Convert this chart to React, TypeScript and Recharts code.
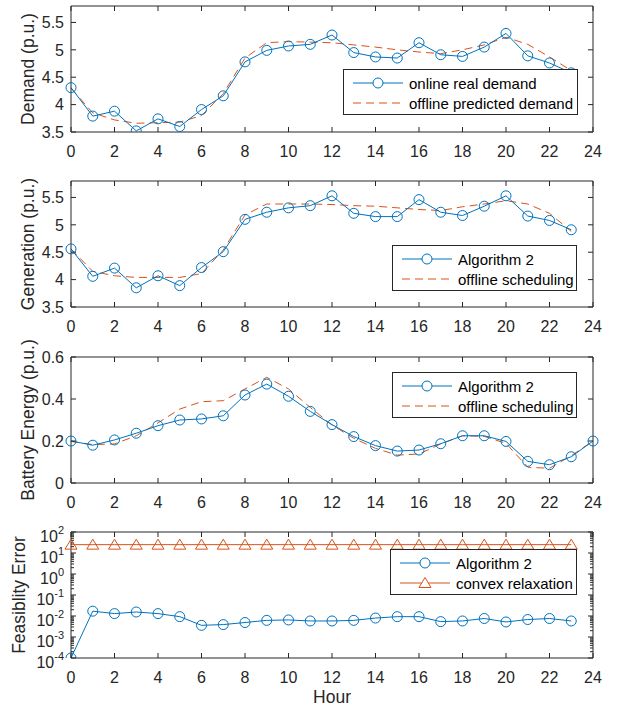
import React from "react";
import { LineChart, Line, XAxis, YAxis, ReferenceLine } from "recharts";

// hours on the x axis
const hours = [0, 1, 2, 3, 4, 5, 6, 7, 8, 9, 10, 11, 12, 13, 14, 15, 16, 17, 18, 19, 20, 21, 22, 23];
const hoursBattery = [0, 1, 2, 3, 4, 5, 6, 7, 8, 9, 10, 11, 12, 13, 14, 15, 16, 17, 18, 19, 20, 21, 22, 23, 24];
const xTicks = [0, 2, 4, 6, 8, 10, 12, 14, 16, 18, 20, 22, 24];

// panel 1: demand
const demandOnline = [4.31, 3.79, 3.88, 3.52, 3.74, 3.6, 3.91, 4.16, 4.78, 4.99, 5.07, 5.1, 5.27, 4.95, 4.87, 4.85, 5.13, 4.91, 4.88, 5.05, 5.3, 4.89, 4.76, 4.58];
const demandOffline = [4.3, 3.85, 3.72, 3.66, 3.67, 3.68, 3.8, 4.2, 4.85, 5.13, 5.15, 5.14, 5.13, 5.09, 5.05, 5.0, 4.96, 4.93, 5.0, 5.09, 5.23, 5.1, 4.87, 4.62];

// panel 2: generation
const genAlgorithm = [4.56, 4.06, 4.21, 3.85, 4.07, 3.89, 4.22, 4.51, 5.1, 5.23, 5.31, 5.35, 5.53, 5.21, 5.15, 5.15, 5.46, 5.23, 5.17, 5.34, 5.53, 5.16, 5.08, 4.91];
const genOffline = [4.56, 4.15, 4.07, 4.04, 4.04, 4.04, 4.11, 4.54, 5.18, 5.38, 5.38, 5.38, 5.37, 5.35, 5.34, 5.31, 5.28, 5.26, 5.33, 5.38, 5.44, 5.38, 5.21, 4.88];

// panel 3: battery energy
const batAlgorithm = [0.2, 0.18, 0.205, 0.237, 0.273, 0.3, 0.305, 0.32, 0.419, 0.471, 0.413, 0.341, 0.278, 0.221, 0.178, 0.152, 0.157, 0.187, 0.225, 0.225, 0.198, 0.103, 0.087, 0.125, 0.2];
const batOffline = [0.198, 0.183, 0.186, 0.225, 0.286, 0.352, 0.387, 0.392, 0.448, 0.503, 0.448, 0.36, 0.276, 0.213, 0.165, 0.133, 0.138, 0.186, 0.225, 0.222, 0.189, 0.075, 0.07, 0.13, 0.2];

// panel 4: feasibility error (log scale)
const errAlgorithm = [0.0001, 0.017, 0.013, 0.0155, 0.013, 0.0093, 0.0036, 0.0039, 0.0049, 0.0062, 0.0065, 0.0058, 0.0058, 0.0062, 0.008, 0.0093, 0.0093, 0.0054, 0.0058, 0.0076, 0.0052, 0.0068, 0.0076, 0.0058];
const errConvex = [25, 25, 25, 25, 25, 25, 25, 25, 25, 25, 25, 25, 25, 25, 25, 25, 25, 25, 25, 25, 25, 25, 25, 25];
const logTicks = [0.0001, 0.001, 0.01, 0.1, 1, 10, 100];
const logMinorTicks = [
  0.0002, 0.0003, 0.0004, 0.0005, 0.0006, 0.0007, 0.0008, 0.0009,
  0.002, 0.003, 0.004, 0.005, 0.006, 0.007, 0.008, 0.009,
  0.02, 0.03, 0.04, 0.05, 0.06, 0.07, 0.08, 0.09,
  0.2, 0.3, 0.4, 0.5, 0.6, 0.7, 0.8, 0.9,
  2, 3, 4, 5, 6, 7, 8, 9,
  20, 30, 40, 50, 60, 70, 80, 90,
];

const demandData = hours.map((h, i) => ({ hour: h, online: demandOnline[i], offline: demandOffline[i] }));
const genData = hours.map((h, i) => ({ hour: h, alg: genAlgorithm[i], offline: genOffline[i] }));
const batData = hoursBattery.map((h, i) => ({ hour: h, alg: batAlgorithm[i], offline: batOffline[i] }));
const errData = hours.map((h, i) => ({ hour: h, alg: errAlgorithm[i], convex: errConvex[i] }));

const FONT = '"Liberation Sans", Arial, Helvetica, sans-serif';
const AX = "#262626";
const BLUE = "#0072BD";
const ORANGE = "#D95319";
const W = 621;
const PLOT_H = 126;
const TOP_H = 6;
const DASH = "8 5";

const NoTick = () => null;

const CircleDot = (p: any) => {
  if (p.cx == null || p.cy == null) return null;
  return <circle key={p.key} cx={p.cx} cy={p.cy} r={5} fill="none" stroke={BLUE} strokeWidth={1} />;
};

const TriangleDot = (p: any) => {
  if (p.cx == null || p.cy == null) return null;
  const { cx, cy } = p;
  return (
    <polygon
      key={p.key}
      points={`${cx},${cy - 5.5} ${cx - 6},${cy + 4.5} ${cx + 6},${cy + 4.5}`}
      fill="none"
      stroke={ORANGE}
      strokeWidth={1}
    />
  );
};

const LogTick = (p: any) => {
  const e = Math.round(Math.log10(p.payload.value));
  return (
    <text x={p.x} y={p.y} dy={10} textAnchor="end" fontSize={16} fill={AX} fontFamily={FONT}>
      <tspan>10</tspan>
      <tspan dy={-8} fontSize={11}>{e}</tspan>
    </text>
  );
};

const YLabel = ({ text, lx, ly }: any) => (
  <text
    x={lx}
    y={ly}
    transform={`rotate(-90 ${lx} ${ly})`}
    textAnchor="middle"
    dominantBaseline="central"
    fontSize={17.5}
    fill={AX}
    fontFamily={FONT}
  >
    {text}
  </text>
);

const tickStyle = { fontSize: 16, fill: AX, fontFamily: FONT };

function Panel({ top, data, yDomain, yTicks, log, label, labelX, bottomH, xLabel, children }: any) {
  return (
    <div style={{ position: "absolute", left: 0, top }}>
      <LineChart width={W} height={TOP_H + PLOT_H + bottomH} data={data} margin={{ top: 0, right: 0, bottom: 0, left: 0 }}>
        <XAxis
          xAxisId="t"
          orientation="top"
          type="number"
          dataKey="hour"
          domain={[0, 24]}
          ticks={xTicks}
          interval={0}
          height={TOP_H}
          tickSize={-5}
          tick={NoTick}
          stroke={AX}
        />
        <XAxis
          type="number"
          dataKey="hour"
          domain={[0, 24]}
          ticks={xTicks}
          interval={0}
          height={bottomH}
          tickSize={-5}
          tickMargin={19}
          tick={tickStyle}
          stroke={AX}
          label={xLabel ? { value: xLabel, position: "insideBottom", offset: 7, fontSize: 17.5, fill: AX, fontFamily: FONT } : undefined}
        />
        <YAxis
          width={71}
          domain={yDomain}
          ticks={yTicks}
          interval={0}
          scale={log ? "log" : "auto"}
          allowDataOverflow
          tickSize={-5}
          tickMargin={12}
          tick={log ? LogTick : tickStyle}
          stroke={AX}
          label={<YLabel text={label} lx={labelX} ly={TOP_H + PLOT_H / 2} />}
        />
        <YAxis
          yAxisId="r"
          orientation="right"
          width={28}
          domain={yDomain}
          ticks={yTicks}
          interval={0}
          scale={log ? "log" : "auto"}
          allowDataOverflow
          tickSize={-5}
          tick={NoTick}
          stroke={AX}
        />
        {children}
      </LineChart>
    </div>
  );
}

function LegendBox({ left, top, width, items }: any) {
  return (
    <div
      style={{
        position: "absolute",
        left,
        top,
        width,
        height: 46,
        boxSizing: "border-box",
        border: `1px solid ${AX}`,
        background: "#fff",
        paddingTop: 3,
        paddingLeft: 9,
        fontFamily: FONT,
        fontSize: 15,
        color: "#000",
      }}
    >
      {items.map((it: any) => (
        <div key={it.label} style={{ height: 20, display: "flex", alignItems: "center" }}>
          <svg width={50} height={20} style={{ flex: "none" }}>
            <line x1={0} y1={10} x2={50} y2={10} stroke={it.color} strokeWidth={1} strokeDasharray={it.dash} />
            {it.marker === "circle" && <circle cx={25} cy={10} r={5} fill="#fff" stroke={it.color} strokeWidth={1} />}
            {it.marker === "triangle" && (
              <polygon points="25,4.5 19,14.5 31,14.5" fill="#fff" stroke={it.color} strokeWidth={1} />
            )}
          </svg>
          <span style={{ marginLeft: 6, whiteSpace: "nowrap" }}>{it.label}</span>
        </div>
      ))}
    </div>
  );
}

function minorTickLines() {
  const out: any[] = [];
  logMinorTicks.forEach((v) => {
    out.push(
      <ReferenceLine key={`l${v}`} segment={[{ x: 0, y: v }, { x: 0.14, y: v }]} stroke={AX} strokeWidth={1} />
    );
    out.push(
      <ReferenceLine key={`r${v}`} segment={[{ x: 23.86, y: v }, { x: 24, y: v }]} stroke={AX} strokeWidth={1} />
    );
  });
  return out;
}

export default function App() {
  return (
    <div style={{ position: "absolute", left: 0, top: 0, width: W, height: 710, background: "#fff" }}>
      <style>{`.recharts-wrapper, svg.recharts-surface { overflow: visible !important; }`}</style>
      <Panel top={0} data={demandData} yDomain={[3.5, 5.8]} yTicks={[3.5, 4, 4.5, 5, 5.5]} label="Demand (p.u.)" labelX={28} bottomH={30}>
        <Line type="linear" dataKey="offline" stroke={ORANGE} strokeWidth={1} strokeDasharray={DASH} dot={false} isAnimationActive={false} />
        <Line type="linear" dataKey="online" stroke={BLUE} strokeWidth={1} dot={CircleDot} isAnimationActive={false} />
      </Panel>
      <Panel top={175} data={genData} yDomain={[3.5, 5.8]} yTicks={[3.5, 4, 4.5, 5, 5.5]} label="Generation (p.u.)" labelX={28} bottomH={30}>
        <Line type="linear" dataKey="offline" stroke={ORANGE} strokeWidth={1} strokeDasharray={DASH} dot={false} isAnimationActive={false} />
        <Line type="linear" dataKey="alg" stroke={BLUE} strokeWidth={1} dot={CircleDot} isAnimationActive={false} />
      </Panel>
      <Panel top={351} data={batData} yDomain={[0, 0.6]} yTicks={[0, 0.2, 0.4, 0.6]} label="Battery Energy (p.u.)" labelX={28} bottomH={30}>
        <Line type="linear" dataKey="offline" stroke={ORANGE} strokeWidth={1} strokeDasharray={DASH} dot={false} isAnimationActive={false} />
        <Line type="linear" dataKey="alg" stroke={BLUE} strokeWidth={1} dot={CircleDot} isAnimationActive={false} />
      </Panel>
      <Panel top={526} data={errData} yDomain={[0.0001, 100]} yTicks={logTicks} log label="Feasiblity Error" labelX={19} bottomH={52} xLabel="Hour">
        {minorTickLines()}
        <Line type="linear" dataKey="alg" stroke={BLUE} strokeWidth={1} dot={CircleDot} isAnimationActive={false} />
        <Line type="linear" dataKey="convex" stroke={ORANGE} strokeWidth={1} dot={TriangleDot} isAnimationActive={false} />
      </Panel>

      <LegendBox
        left={343}
        top={69}
        width={235}
        items={[
          { label: "online real demand", color: BLUE, marker: "circle" },
          { label: "offline predicted demand", color: ORANGE, dash: DASH },
        ]}
      />
      <LegendBox
        left={392}
        top={245}
        width={185}
        items={[
          { label: "Algorithm 2", color: BLUE, marker: "circle" },
          { label: "offline scheduling", color: ORANGE, dash: DASH },
        ]}
      />
      <LegendBox
        left={392}
        top={372}
        width={185}
        items={[
          { label: "Algorithm 2", color: BLUE, marker: "circle" },
          { label: "offline scheduling", color: ORANGE, dash: DASH },
        ]}
      />
      <LegendBox
        left={390}
        top={549}
        width={187}
        items={[
          { label: "Algorithm 2", color: BLUE, marker: "circle" },
          { label: "convex relaxation", color: ORANGE, marker: "triangle" },
        ]}
      />
    </div>
  );
}
